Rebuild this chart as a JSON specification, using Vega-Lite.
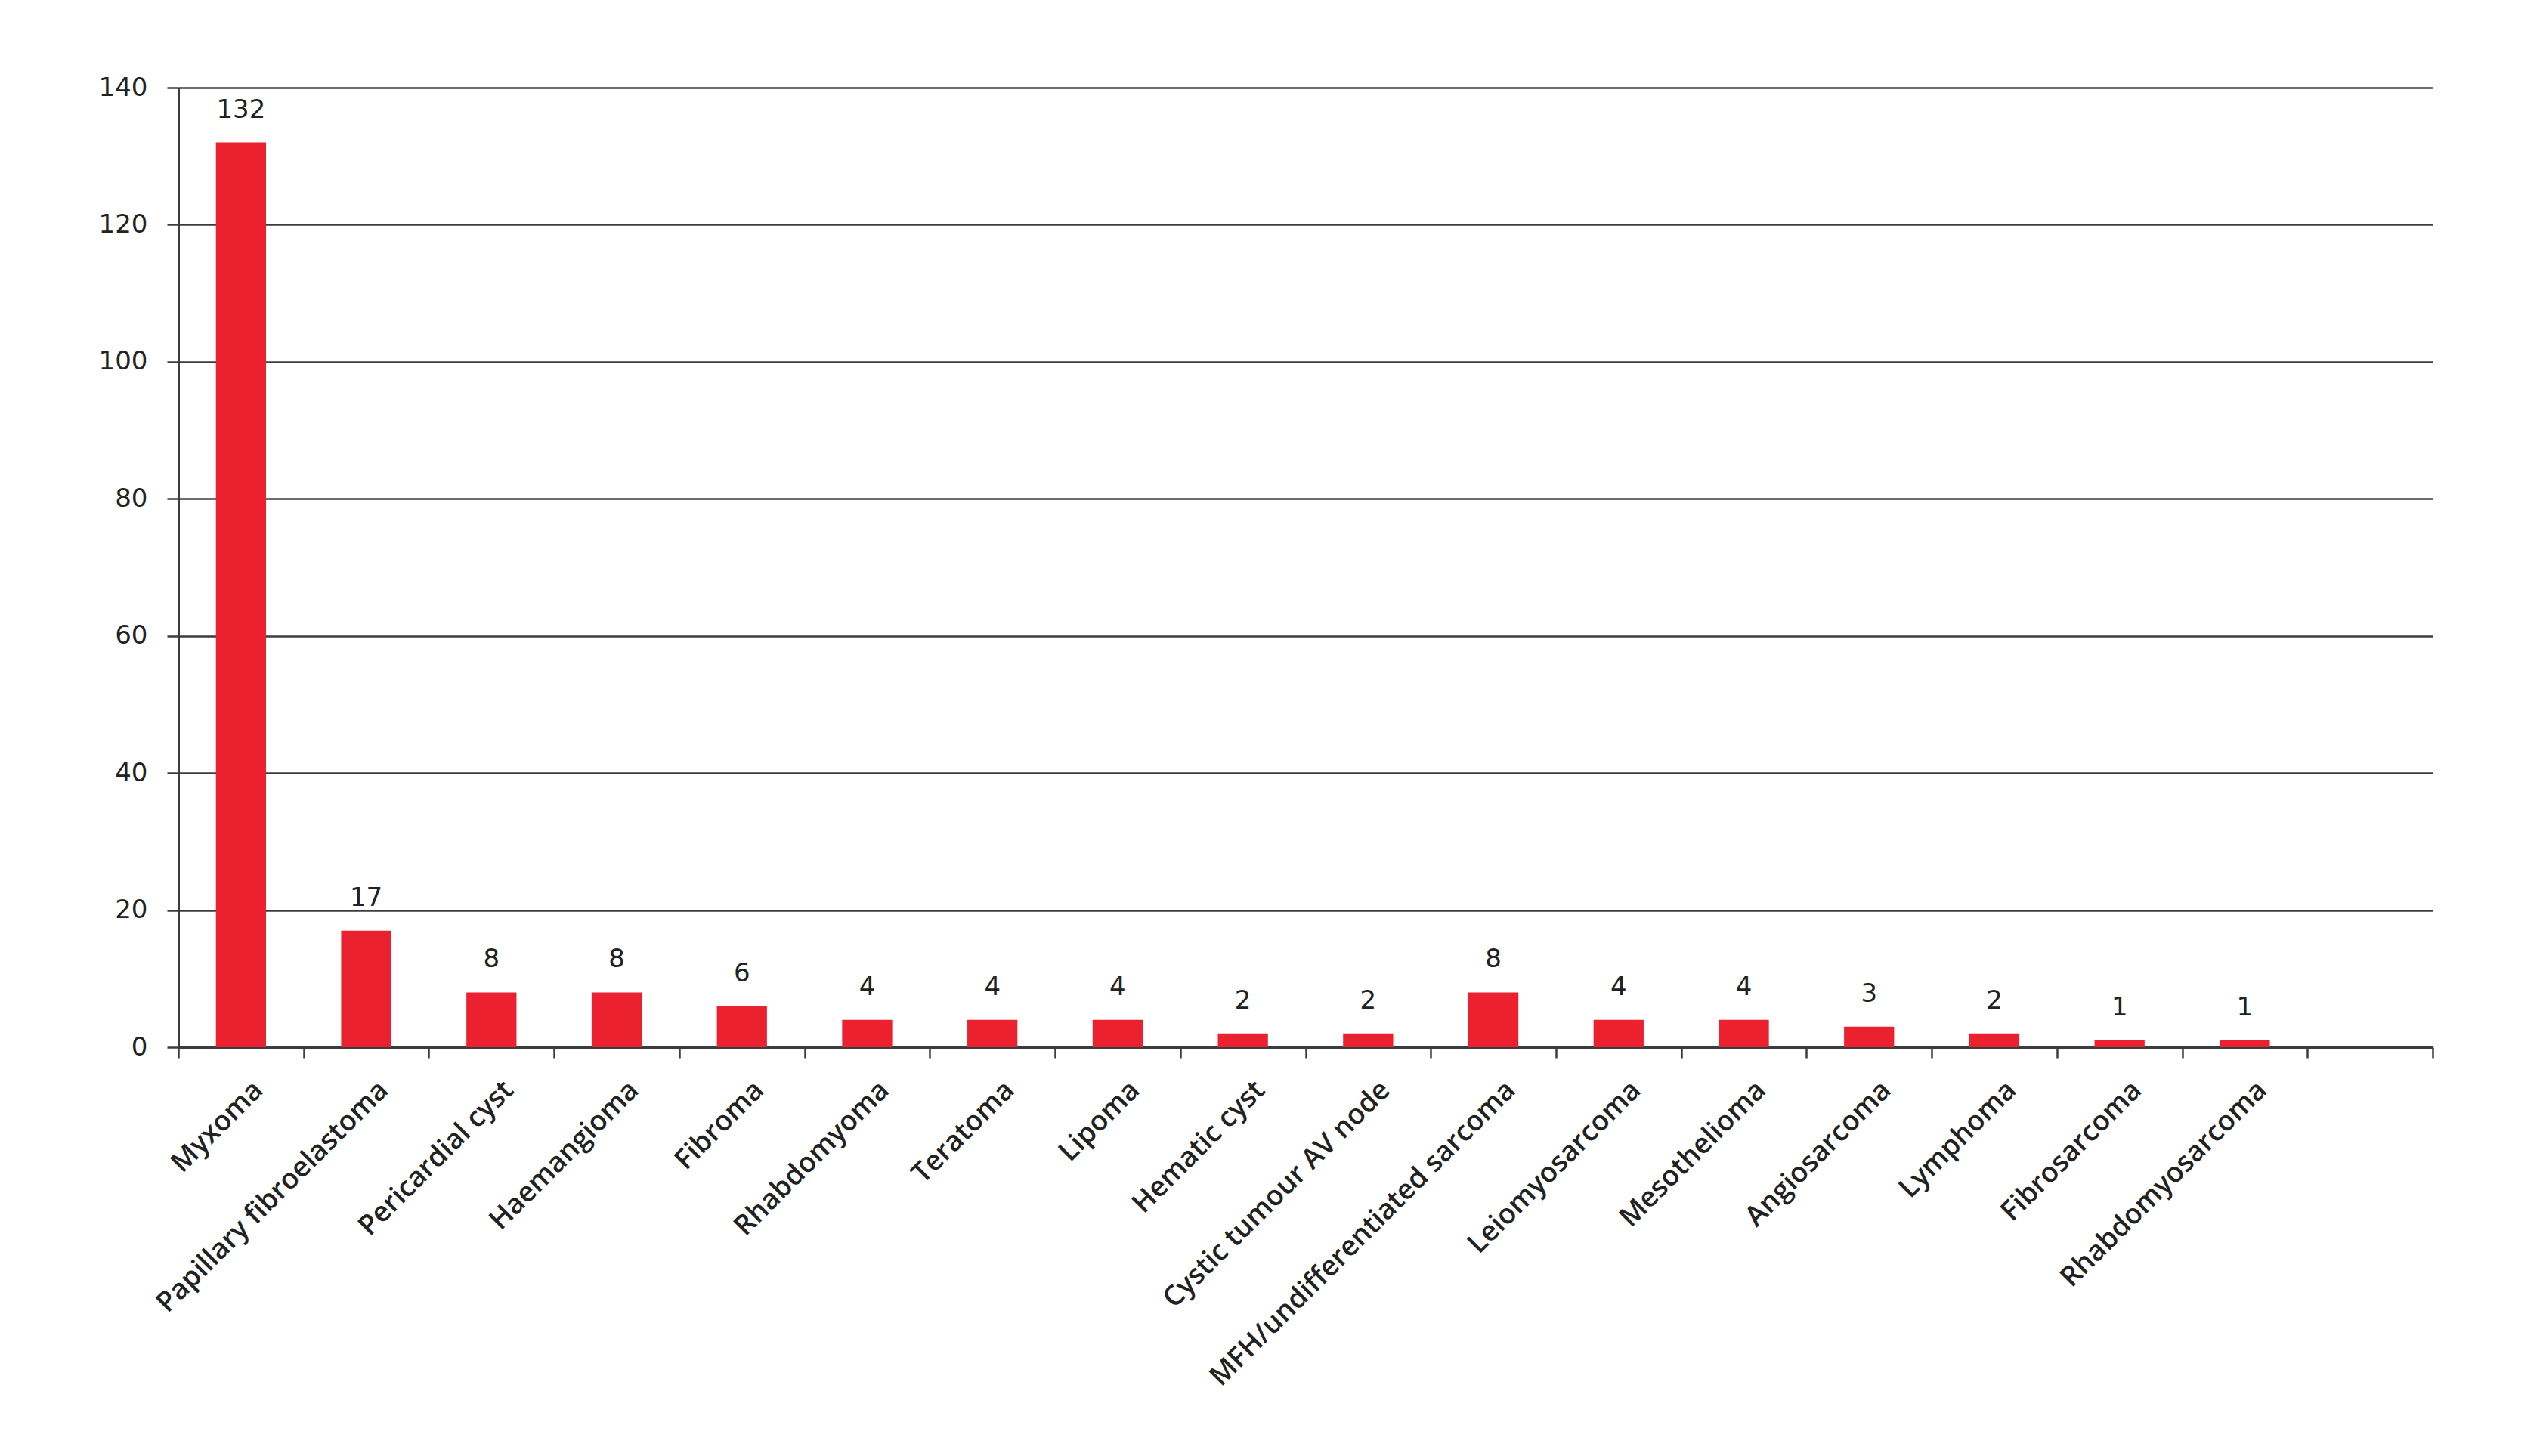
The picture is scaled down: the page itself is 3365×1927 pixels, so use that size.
{
  "$schema": "https://vega.github.io/schema/vega-lite/v6.json",
  "width": 2983,
  "height": 1270,
  "autosize": {"type": "none"},
  "padding": {"left": 236, "top": 116, "right": 146, "bottom": 541},
  "background": "white",
  "config": {"view": {"stroke": null}},
  "data": {
    "values": [
      {"tumour": "Myxoma", "count": 132},
      {"tumour": "Papillary fibroelastoma", "count": 17},
      {"tumour": "Pericardial cyst", "count": 8},
      {"tumour": "Haemangioma", "count": 8},
      {"tumour": "Fibroma", "count": 6},
      {"tumour": "Rhabdomyoma", "count": 4},
      {"tumour": "Teratoma", "count": 4},
      {"tumour": "Lipoma", "count": 4},
      {"tumour": "Hematic cyst", "count": 2},
      {"tumour": "Cystic tumour AV node", "count": 2},
      {"tumour": "MFH/undifferentiated sarcoma", "count": 8},
      {"tumour": "Leiomyosarcoma", "count": 4},
      {"tumour": "Mesothelioma", "count": 4},
      {"tumour": "Angiosarcoma", "count": 3},
      {"tumour": "Lymphoma", "count": 2},
      {"tumour": "Fibrosarcoma", "count": 1},
      {"tumour": "Rhabdomyosarcoma", "count": 1}
    ]
  },
  "encoding": {
    "x": {
      "field": "tumour",
      "type": "nominal",
      "sort": null,
      "scale": {
        "domain": ["Myxoma", "Papillary fibroelastoma", "Pericardial cyst", "Haemangioma", "Fibroma", "Rhabdomyoma", "Teratoma", "Lipoma", "Hematic cyst", "Cystic tumour AV node", "MFH/undifferentiated sarcoma", "Leiomyosarcoma", "Mesothelioma", "Angiosarcoma", "Lymphoma", "Fibrosarcoma", "Rhabdomyosarcoma", " "],
        "paddingInner": 0,
        "paddingOuter": 0
      },
      "axis": {
        "title": null,
        "tickBand": "extent",
        "labelAngle": -45,
        "labelAlign": "right",
        "labelBaseline": "top",
        "labelFont": "Open Sans",
        "labelFontSize": 37,
        "labelFontWeight": 600,
        "labelColor": "#222222",
        "labelPadding": 24,
        "labelOffset": 10,
        "labelOverlap": false,
        "labelLimit": 0,
        "domainColor": "#3c3c3c",
        "domainWidth": 3,
        "tickColor": "#3c3c3c",
        "tickWidth": 2.5,
        "tickSize": 14,
        "grid": false
      }
    },
    "y": {
      "field": "count",
      "type": "quantitative",
      "scale": {"domain": [0, 140]},
      "axis": {
        "title": null,
        "values": [0, 20, 40, 60, 80, 100, 120, 140],
        "grid": true,
        "gridColor": "#3c3c3c",
        "gridWidth": 2.5,
        "domainColor": "#3c3c3c",
        "domainWidth": 3,
        "tickColor": "#3c3c3c",
        "tickWidth": 2.5,
        "tickSize": 15,
        "labelFont": "DejaVu Sans",
        "labelFontSize": 34,
        "labelColor": "#222222",
        "labelPadding": 26
      }
    }
  },
  "layer": [
    {"mark": {"type": "bar", "color": "#ec2130", "width": {"band": 0.4}}},
    {
      "mark": {"type": "text", "baseline": "alphabetic", "dy": -33, "font": "DejaVu Sans", "fontSize": 34, "color": "#222222"},
      "encoding": {"text": {"field": "count", "type": "quantitative"}}
    }
  ]
}
